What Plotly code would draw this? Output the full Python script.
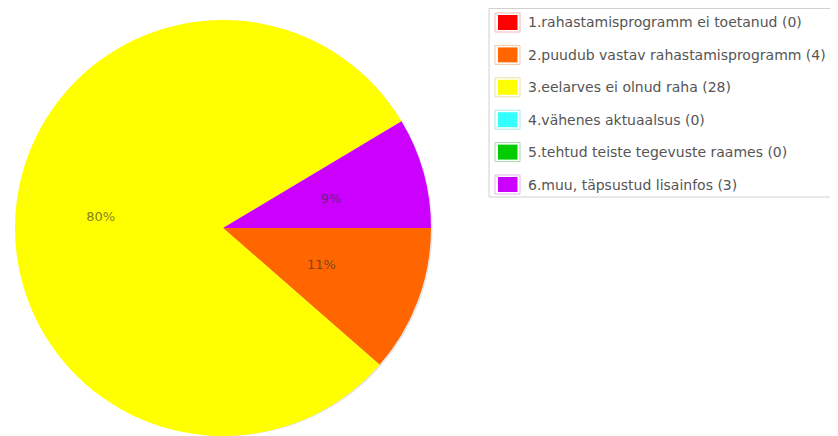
import plotly.graph_objects as go

labels = [
    "1.rahastamisprogramm ei toetanud (0)",
    "2.puudub vastav rahastamisprogramm (4)",
    "3.eelarves ei olnud raha (28)",
    "4.vähenes aktuaalsus (0)",
    "5.tehtud teiste tegevuste raames (0)",
    "6.muu, täpsustud lisainfos (3)",
]
values = [0, 4, 28, 0, 0, 3]
colors = ["#FF0000", "#FF6600", "#FFFF00", "#33FFFF", "#00CC00", "#CC00FF"]
swatch_borders = ["#F4B8B8", "#F2C8A8", "#E8E0A0", "#A8E8E8", "#A8D8A8", "#E8B0F4"]

W, H = 838, 436
OFF = 8  # page body margin of the browser


def px(x):
    return (x - OFF) / W


def py(y):
    return 1 - (y - OFF) / H


CX, CY, R = 223, 228, 208
pie_dom = dict(x=[px(CX - R), px(CX + R)], y=[py(CY + R), py(CY - R)])
r_small = 142
small_dom = dict(x=[px(CX - r_small), px(CX + r_small)], y=[py(CY + r_small), py(CY - r_small)])

total = sum(values)
big_tpl = ["%{percent:.0%}" if v / total > 0.5 else "" for v in values]
small_tpl = ["%{percent:.0%}" if 0 < v / total <= 0.5 else "" for v in values]
transparent = ["rgba(0,0,0,0)"] * len(values)
lab_font = dict(family="DejaVu Sans", size=13, color="rgba(50,50,50,0.65)")

fig = go.Figure()
# soft shadow
fig.add_trace(go.Pie(
    labels=labels, values=values, sort=False, direction="clockwise", rotation=90,
    marker=dict(colors=["rgba(0,0,0,0.10)"] * len(values), line=dict(width=0)),
    textinfo="none", domain=dict(x=[px(CX - R + 3), px(CX + R + 3)], y=[py(CY + R), py(CY - R + 3)]),
    showlegend=False, hoverinfo="skip",
))
# main pie
fig.add_trace(go.Pie(
    labels=labels, values=values, sort=False, direction="clockwise", rotation=90,
    marker=dict(colors=colors, line=dict(width=0)),
    textinfo="none", domain=pie_dom,
    showlegend=False, hoverinfo="label+percent",
))
# percentage label of the large slice
fig.add_trace(go.Pie(
    labels=labels, values=values, sort=False, direction="clockwise", rotation=90,
    hole=0.18,
    marker=dict(colors=transparent, line=dict(width=0)),
    texttemplate=big_tpl, textposition="inside", insidetextorientation="horizontal",
    textfont=lab_font, domain=pie_dom,
    showlegend=False, hoverinfo="skip",
))
# percentage labels of the small slices
fig.add_trace(go.Pie(
    labels=labels, values=values, sort=False, direction="clockwise", rotation=90,
    marker=dict(colors=transparent, line=dict(width=0)),
    texttemplate=small_tpl, textposition="inside", insidetextorientation="horizontal",
    textfont=lab_font, domain=small_dom,
    showlegend=False, hoverinfo="skip",
))

shapes = []
annotations = []
shapes.append(dict(type="rect", xref="paper", yref="paper",
                   x0=px(489), x1=px(837), y0=py(197), y1=1 - 0.5 / H,
                   line=dict(color="#D0D0D0", width=1), fillcolor="white", layer="below"))
for i, (lab, col, bcol) in enumerate(zip(labels, colors, swatch_borders)):
    cy = 22.5 + 32.4 * i
    shapes.append(dict(type="rect", xref="paper", yref="paper",
                       x0=px(495), x1=px(520), y0=py(cy + 9.5), y1=py(cy - 9.5),
                       line=dict(color=bcol, width=1), fillcolor="white"))
    shapes.append(dict(type="rect", xref="paper", yref="paper",
                       x0=px(498), x1=px(517.5), y0=py(cy + 7.5), y1=py(cy - 7.5),
                       line=dict(width=0), fillcolor=col))
    annotations.append(dict(text=lab, xref="paper", yref="paper",
                            x=px(526), y=py(cy), xanchor="left", yanchor="middle",
                            showarrow=False,
                            font=dict(family="DejaVu Sans", size=14, color="#555555")))

fig.update_layout(
    width=W, height=H,
    margin=dict(l=0, r=0, t=0, b=0),
    paper_bgcolor="white",
    plot_bgcolor="white",
    shapes=shapes,
    annotations=annotations,
)
fig.write_html("out.html")
